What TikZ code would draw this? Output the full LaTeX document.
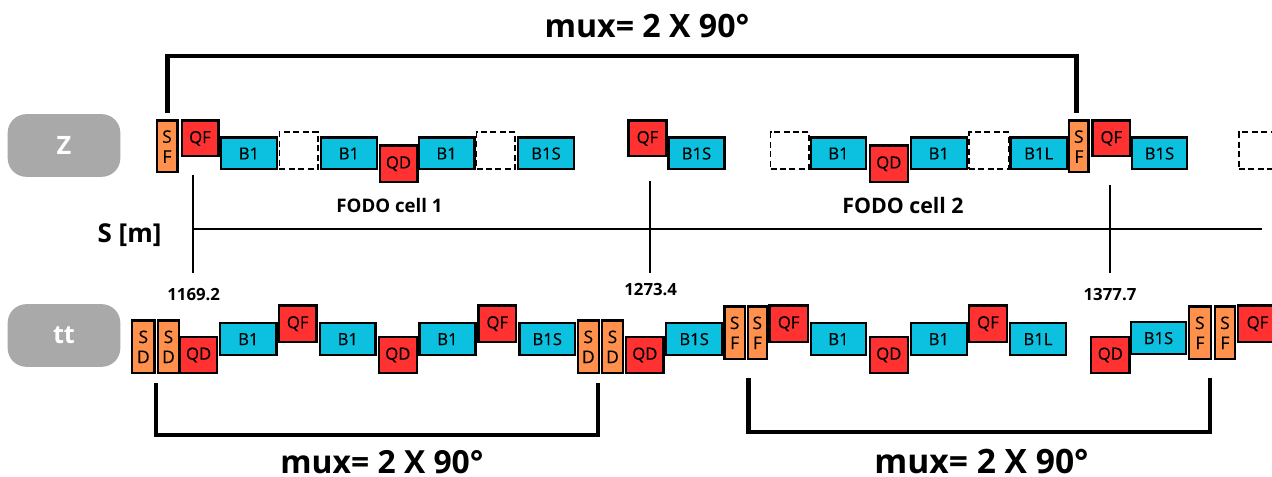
\documentclass[tikz,border=0pt]{standalone}
\usepackage{fontspec}
\setmainfont{Open Sans}
\newfontfamily\boxfont[FakeBold=0.4]{Open Sans}
\definecolor{dipole}{HTML}{0CC0DF}
\definecolor{quad}{HTML}{FF3131}
\definecolor{sext}{HTML}{FF914D}
\definecolor{pill}{HTML}{A9A9A9}
\tikzset{
  x=0.75pt,y=-0.75pt,
  mag/.style={draw=black,line width=1.7pt,inner sep=0pt,outer sep=0pt,font=\boxfont\fontsize{12.5}{13}\selectfont\color{black}},
  dip/.style={mag,fill=dipole},
  qua/.style={mag,fill=quad},
  sxt/.style={mag,fill=sext,align=center,font=\boxfont\fontsize{13}{15}\selectfont},
  gap/.style={draw=black,line width=1.2pt,dash pattern=on 4.5pt off 2.6pt,inner sep=0pt,outer sep=0pt},
  tag/.style={fill=pill,rounded corners=14pt,text=white,inner sep=0pt,font=\fontsize{19}{22}\selectfont\bfseries},
  brack/.style={draw=black,line width=3pt},
  brackb/.style={draw=black,line width=3.4pt},
  tick/.style={draw=black,line width=1.5pt},
  mux/.style={inner sep=0pt,font=\fontsize{24.1}{28}\selectfont\bfseries},
  muxl/.style={inner sep=0pt,font=\fontsize{23.9}{28}\selectfont\bfseries},
  muxb/.style={inner sep=0pt,font=\fontsize{25.2}{28}\selectfont\bfseries},
  sval/.style={inner sep=0pt,font=\fontsize{12.6}{14}\selectfont\bfseries},
}
% name, x0, y0, x1, y1, style, text (pixels)
\newcommand{\elem}[7]{%
  \pgfmathsetmacro{\ew}{(#4-#2)*0.75-1.7}%
  \pgfmathsetmacro{\eh}{(#5-#3)*0.75-1.7}%
  \node[#6,minimum width=\ew pt,minimum height=\eh pt] (#1) at ({(#2+#4)/2},{(#3+#5)/2}) {#7};}
\newcommand{\gapbox}[5]{%
  \pgfmathsetmacro{\ew}{(#4-#2)*0.75-1.2}%
  \pgfmathsetmacro{\eh}{(#5-#3)*0.75-1.2}%
  \node[gap,minimum width=\ew pt,minimum height=\eh pt] (#1) at ({(#2+#4)/2},{(#3+#5)/2}) {};}
\begin{document}
\begin{tikzpicture}
\useasboundingbox[clip] (0,0) rectangle (1272,477);
\fill[white] (0,0) rectangle (1272,477);
% row tags
\node[tag,minimum width=84.5pt,minimum height=47pt] (zt) at (64,145.5) {Z};
\node[tag,minimum width=84.5pt,minimum height=47pt] (ttt) at (64,335.5) {tt};
% Z row gaps
\gapbox{zg1}{278.5}{131.5}{319}{170}
\gapbox{zg2}{475.7}{131.5}{516}{170}
\gapbox{zg3}{769.7}{131.5}{809.7}{170}
\gapbox{zg4}{968}{131.5}{1009.3}{170}
\gapbox{zg5}{1238}{131.5}{1278}{170}
% Z row
\elem{zsf1}{155.5}{119.5}{178.5}{173.5}{sxt}{S\\F}
\elem{zqf1}{180.5}{119.5}{219.5}{157.5}{qua}{QF}
\elem{zb1}{220}{136.5}{278}{170.5}{dip}{B1}
\elem{zb2}{320}{136.5}{378}{170.5}{dip}{B1}
\elem{zqd1}{378.5}{144.5}{418.5}{183}{qua}{QD}
\elem{zb3}{417.5}{136.5}{475.7}{170.5}{dip}{B1}
\elem{zb4}{517}{136.5}{575}{170.5}{dip}{B1S}
\elem{zqf2}{627.3}{119.5}{667.7}{157.5}{qua}{QF}
\elem{zb5}{667.3}{136.5}{725.7}{170.5}{dip}{B1S}
\elem{zb6}{809.7}{136.5}{867.3}{170.5}{dip}{B1}
\elem{zqd2}{868.7}{144.5}{909}{183}{qua}{QD}
\elem{zb7}{909.7}{136.5}{968}{170.5}{dip}{B1}
\elem{zb8}{1009.3}{136.5}{1068}{170.5}{dip}{B1L}
\elem{zsf2}{1068}{119.5}{1089.7}{173.5}{sxt}{S\\F}
\elem{zqf3}{1091.3}{119.5}{1131.3}{157.5}{qua}{QF}
\elem{zb9}{1131}{136.5}{1188}{170.5}{dip}{B1S}
% tt row
\elem{tsd1}{131}{319.3}{155.7}{374.3}{sxt}{S\\D}
\elem{tsd2}{156.7}{319.3}{180.3}{374.3}{sxt}{S\\D}
\elem{tqd1}{179}{335.7}{218.3}{374.3}{qua}{QD}
\elem{tb1}{219}{322}{277.7}{356.3}{dip}{B1}
\elem{tqf1}{277.7}{304.3}{317.7}{343}{qua}{QF}
\elem{tb2}{319}{322}{376.7}{356.3}{dip}{B1}
\elem{tqd2}{377.7}{335.7}{418}{374.3}{qua}{QD}
\elem{tb3}{418.3}{322}{476.7}{356.3}{dip}{B1}
\elem{tqf2}{477.3}{304.3}{517.3}{343}{qua}{QF}
\elem{tb4}{518.3}{322}{576.3}{356.3}{dip}{B1S}
\elem{tsd3}{576.7}{319.3}{600}{374.3}{sxt}{S\\D}
\elem{tsd4}{600.7}{319.3}{624.3}{374.3}{sxt}{S\\D}
\elem{tqd3}{625}{335.7}{664.7}{374.3}{qua}{QD}
\elem{tb5}{665}{322}{723.3}{356.3}{dip}{B1S}
\elem{tsf1}{723.3}{305.3}{746}{360.3}{sxt}{S\\F}
\elem{tsf2}{746.7}{305.3}{768}{360.3}{sxt}{S\\F}
\elem{tqf3}{768.3}{304.3}{809}{343}{qua}{QF}
\elem{tb6}{809.7}{322}{867.3}{356.3}{dip}{B1}
\elem{tqd4}{868.7}{335.7}{909}{374.3}{qua}{QD}
\elem{tb7}{909.7}{322}{968}{356.3}{dip}{B1}
\elem{tqf4}{968}{304.3}{1008}{343}{qua}{QF}
\elem{tb8}{1009}{322}{1067}{356.3}{dip}{B1L}
\elem{tqd5}{1090}{335.7}{1130.7}{374.3}{qua}{QD}
\elem{tb9}{1129.7}{321}{1187.3}{355.3}{dip}{B1S}
\elem{tsf3}{1187.7}{305.3}{1212}{360.3}{sxt}{S\\F}
\elem{tsf4}{1213.7}{305.3}{1236.3}{360.3}{sxt}{S\\F}
\elem{tqf5}{1237}{304.3}{1278}{343}{qua}{QF}
% axis
\coordinate (axs) at (193.3,229.3);
\coordinate (axe) at (1261.7,229.3);
\draw[tick] (axs) -- (axe);
\coordinate (t1a) at (193.3,175); \coordinate (t1b) at (193.3,273.3);
\coordinate (t2a) at (649.7,180.7); \coordinate (t2b) at (649.7,273.3);
\coordinate (t3a) at (1110.3,185); \coordinate (t3b) at (1110.3,273.3);
\draw[tick] (t1a) -- (t1b);
\draw[tick] (t2a) -- (t2b);
\draw[tick] (t3a) -- (t3b);
% brackets
\coordinate (b1a) at (167.7,113); \coordinate (b1b) at (1076.7,113);
\draw[brackb] (b1a) -- (167.7,56) -- (1076.7,56) -- (b1b);
\coordinate (b2a) at (156,383.3); \coordinate (b2b) at (598.3,383.3);
\draw[brack] (b2a) -- (156,435) -- (598.3,435) -- (b2b);
\coordinate (b3a) at (748.3,378.3); \coordinate (b3b) at (1210,378.3);
\draw[brackb] (b3a) -- (748.3,432) -- (1210,432) -- (b3b);
% labels
\node[mux] (m1) at (647,26) {mux= 2 X 90°};
\node[muxl] (m2) at (382,462.5) {mux= 2 X 90°};
\node[muxb] (m3) at (981.5,461.5) {mux= 2 X 90°};
\node[inner sep=0pt,font=\fontsize{14}{16}\selectfont\bfseries] (c1) at (389.5,206) {FODO cell 1};
\node[inner sep=0pt,font=\fontsize{16}{18}\selectfont\bfseries] (c2) at (903,206) {FODO cell 2};
\node[inner sep=0pt,font=\fontsize{19.5}{22}\selectfont\bfseries] (sm) at (129.5,235) {S [m]};
\node[sval] (s1) at (193.7,294.3) {1169.2};
\node[sval] (s2) at (650.7,290) {1273.4};
\node[sval] (s3) at (1110,294.5) {1377.7};
\end{tikzpicture}
\end{document}
